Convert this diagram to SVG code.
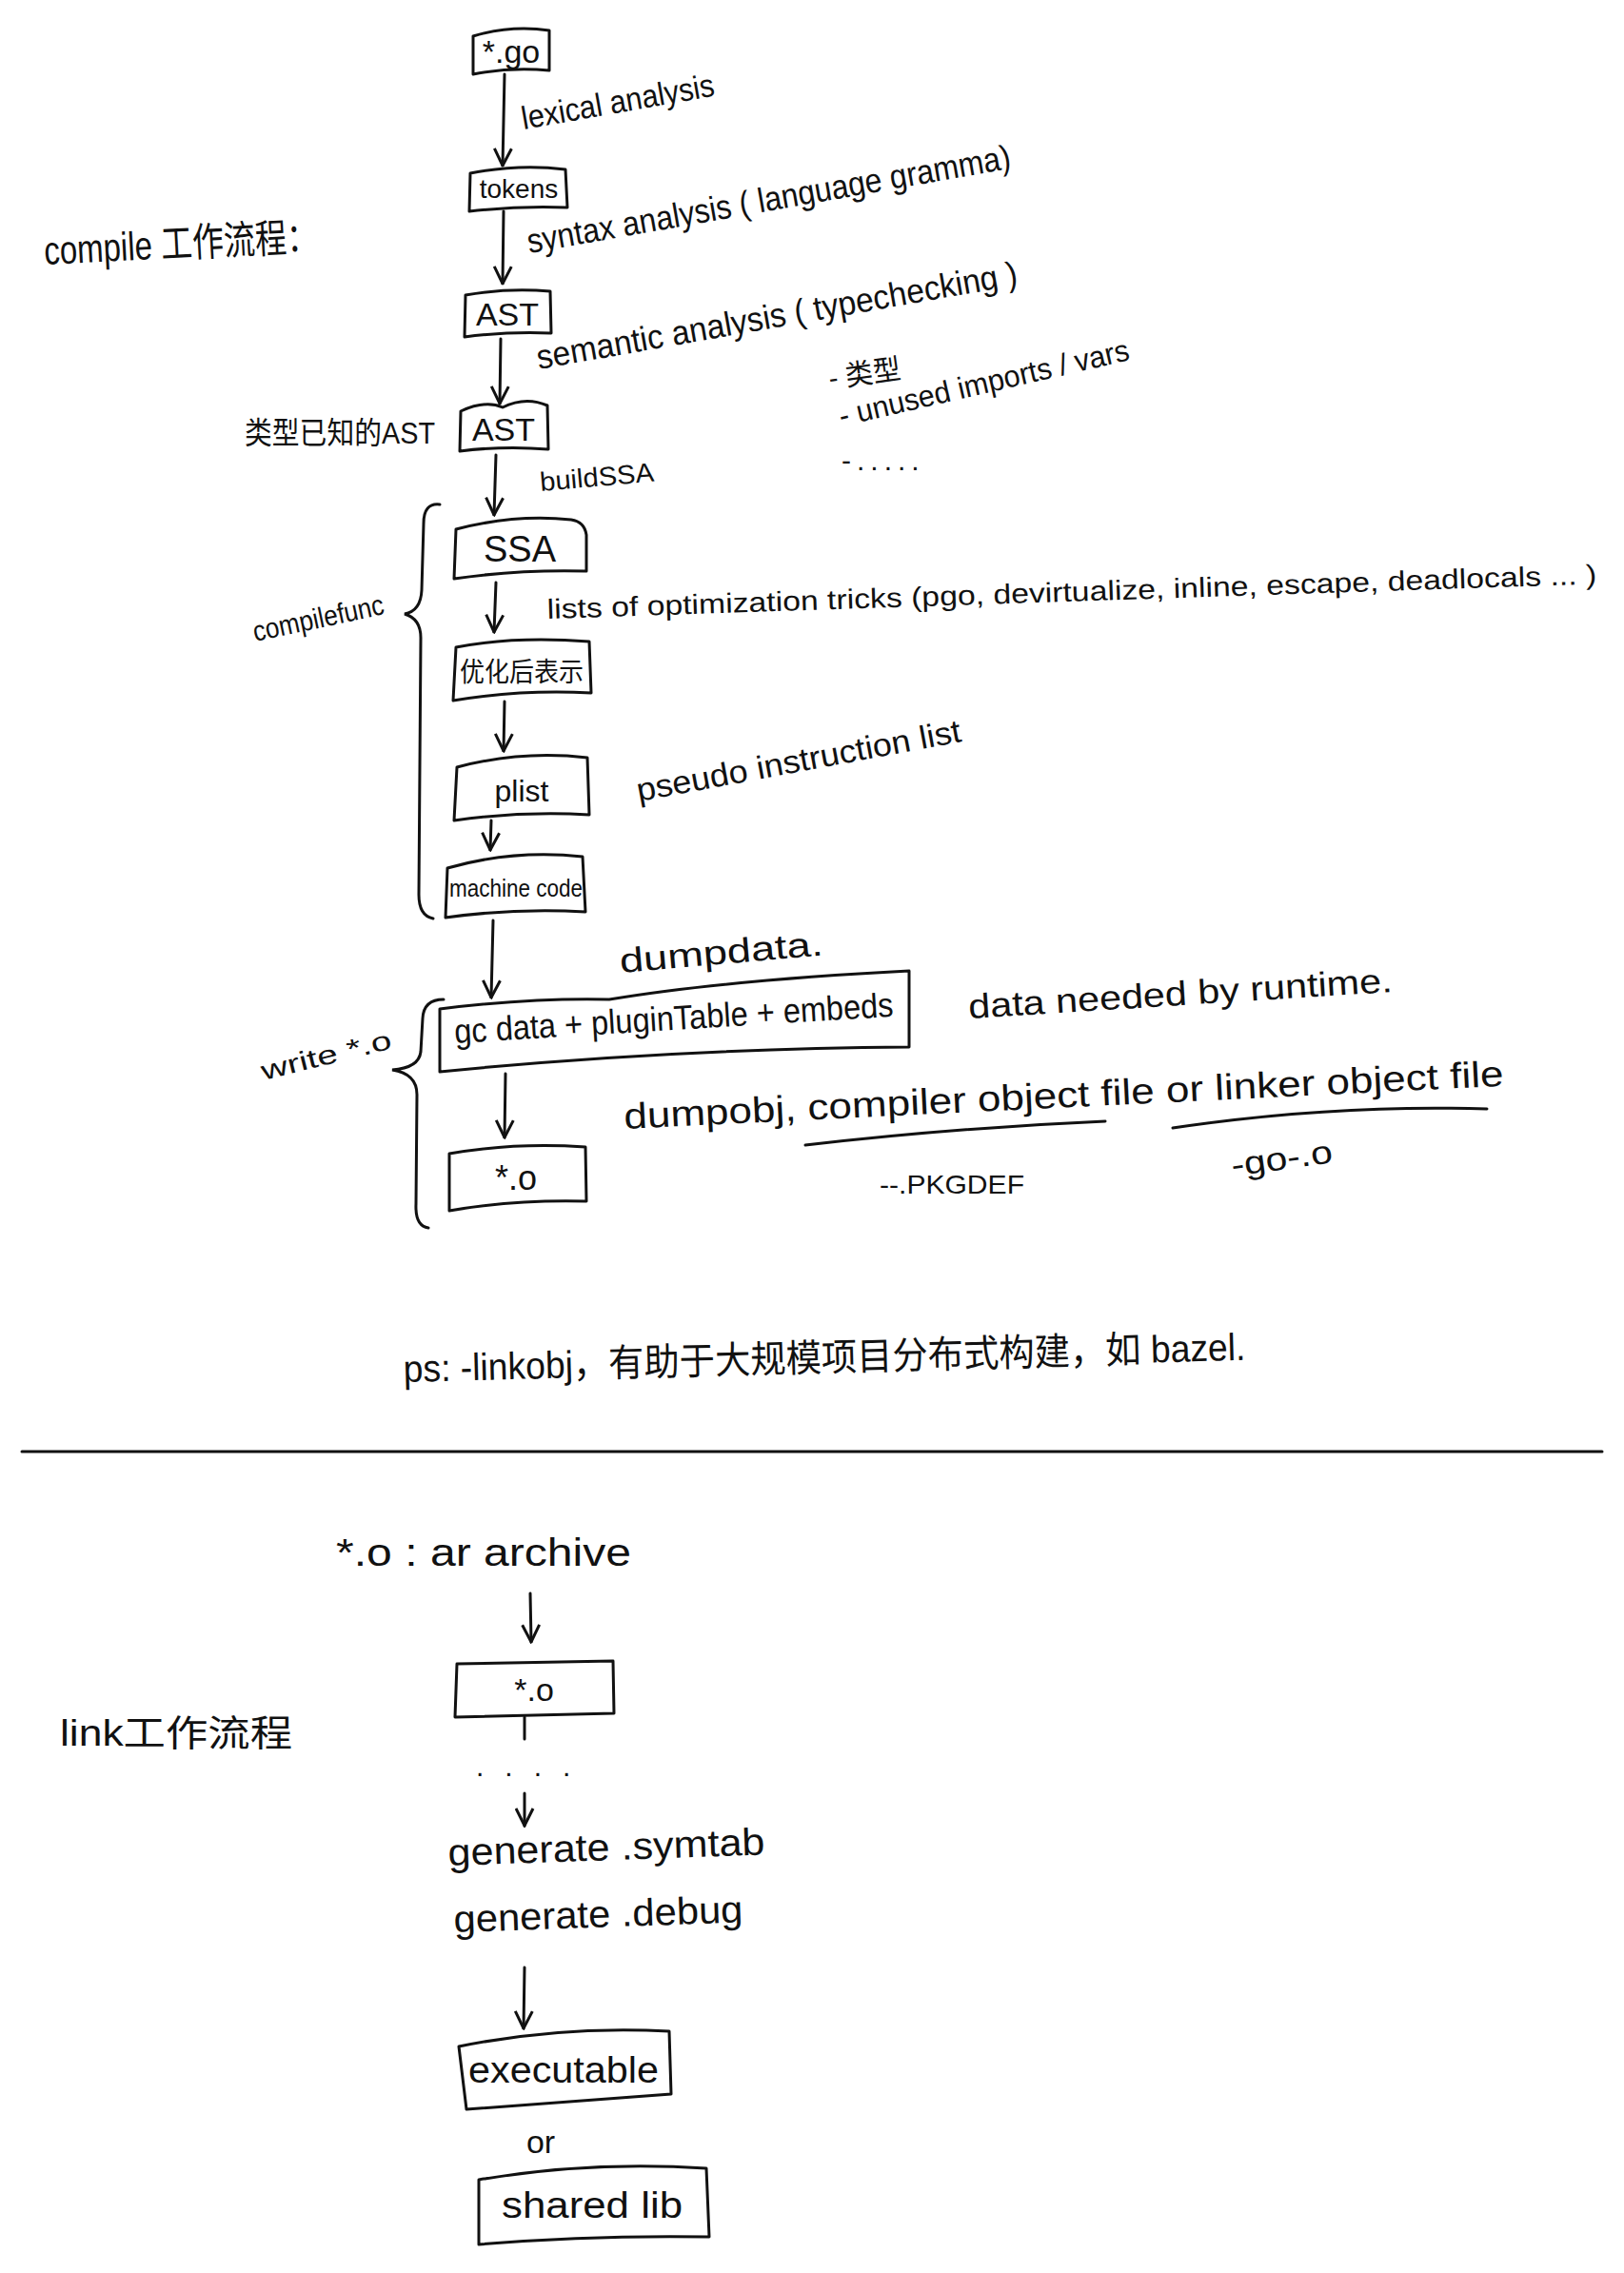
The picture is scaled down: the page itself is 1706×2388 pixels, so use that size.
<svg xmlns="http://www.w3.org/2000/svg" width="1706" height="2388" viewBox="0 0 1706 2388">
<style>
.bx{fill:none;stroke:#111;stroke-width:3;stroke-linejoin:round;stroke-linecap:round}
.ln{fill:none;stroke:#111;stroke-width:3;stroke-linecap:round}
.t{font-family:"Liberation Sans","Noto Sans CJK SC",sans-serif;fill:#111}
.c{text-anchor:middle}
</style>
<defs>
<marker id="ah" viewBox="0 0 14 14" refX="13" refY="7" markerWidth="7" markerHeight="7" markerUnits="strokeWidth" orient="auto">
<path d="M1,1 L13,7 L1,13" fill="none" stroke="#111" stroke-width="2"/>
</marker>
</defs>
<rect width="1706" height="2388" fill="#fff"/>

<g id="labels">
<text class="t" x="47" y="278" font-size="42" textLength="288" lengthAdjust="spacingAndGlyphs" transform="rotate(-3 47 278)">compile 工作流程：</text>
<text class="t" x="550" y="136" font-size="34" textLength="205" lengthAdjust="spacingAndGlyphs" transform="rotate(-10 550 136)">lexical analysis</text>
<text class="t" x="556" y="266" font-size="36" textLength="515" lengthAdjust="spacingAndGlyphs" transform="rotate(-10 556 266)">syntax analysis ( language gramma)</text>
<text class="t" x="566" y="388" font-size="36" textLength="512" lengthAdjust="spacingAndGlyphs" transform="rotate(-10 566 388)">semantic analysis ( typechecking )</text>
<text class="t" x="872" y="408" font-size="30" textLength="76" lengthAdjust="spacingAndGlyphs" transform="rotate(-8 872 408)">- 类型</text>
<text class="t" x="884" y="448" font-size="32" textLength="312" lengthAdjust="spacingAndGlyphs" transform="rotate(-13 884 448)">- unused imports / vars</text>
<text class="t" x="884" y="494" font-size="30" letter-spacing="6">-.....</text>
<text class="t" x="257" y="466" font-size="32" textLength="200" lengthAdjust="spacingAndGlyphs">类型已知的AST</text>
<text class="t" x="568" y="516" font-size="28" textLength="120" lengthAdjust="spacingAndGlyphs" transform="rotate(-5 568 516)">buildSSA</text>
<text class="t" x="268" y="674" font-size="30" textLength="140" lengthAdjust="spacingAndGlyphs" transform="rotate(-12 268 674)">compilefunc</text>
<text class="t" x="575" y="650" font-size="29" textLength="1103" lengthAdjust="spacingAndGlyphs" transform="rotate(-1.9 575 650)">lists of optimization tricks  (pgo, devirtualize, inline, escape, deadlocals ... )</text>
<text class="t" x="671" y="842" font-size="34" textLength="346" lengthAdjust="spacingAndGlyphs" transform="rotate(-10.5 671 842)">pseudo instruction list</text>
<text class="t" x="652" y="1022" font-size="36" textLength="214" lengthAdjust="spacingAndGlyphs" transform="rotate(-5 652 1022)">dumpdata.</text>
<text class="t" x="277" y="1135" font-size="28" textLength="140" lengthAdjust="spacingAndGlyphs" transform="rotate(-14 277 1135)">write *.o</text>
<text class="t" x="1018" y="1070" font-size="36" textLength="446" lengthAdjust="spacingAndGlyphs" transform="rotate(-3.6 1018 1070)">data needed by runtime.</text>
<text class="t" x="656" y="1186" font-size="38" textLength="925" lengthAdjust="spacingAndGlyphs" transform="rotate(-2.8 656 1186)">dumpobj, compiler object file or linker object file</text>
<text class="t" x="924" y="1254" font-size="28" textLength="152" lengthAdjust="spacingAndGlyphs">--.PKGDEF</text>
<text class="t" x="1295" y="1236" font-size="34" textLength="107" lengthAdjust="spacingAndGlyphs" transform="rotate(-8 1295 1236)">-go-.o</text>
<text class="t" x="424" y="1452" font-size="40" textLength="885" lengthAdjust="spacingAndGlyphs" transform="rotate(-1.5 424 1452)">ps: -linkobj，有助于大规模项目分布式构建，如 bazel.</text>
<text class="t" x="353" y="1645" font-size="40" textLength="310" lengthAdjust="spacingAndGlyphs">*.o : ar archive</text>
<text class="t" x="63" y="1834" font-size="38" textLength="244" lengthAdjust="spacingAndGlyphs">link工作流程</text>
<text class="t" x="500" y="1866" font-size="30" letter-spacing="22">....</text>
<text class="t" x="471" y="1960" font-size="40" textLength="333" lengthAdjust="spacingAndGlyphs" transform="rotate(-2 471 1960)">generate .symtab</text>
<text class="t" x="477" y="2030" font-size="40" textLength="304" lengthAdjust="spacingAndGlyphs" transform="rotate(-2 477 2030)">generate .debug</text>
<text class="t c" x="568" y="2262" font-size="34">or</text>
</g>

<g id="n-go"><path class="bx" d="M497,38 Q537,26 577,32 L577,74 Q537,70 497,78 Z"/><text class="t c" x="537" y="66" font-size="34">*.go</text></g>
<g id="n-tokens"><path class="bx" d="M494,182 Q545,172 594,178 L596,218 Q545,216 493,222 Z"/><text class="t c" x="545" y="208" font-size="28">tokens</text></g>
<g id="n-ast"><path class="bx" d="M489,310 Q534,302 578,306 L579,350 Q534,348 488,354 Z"/><text class="t c" x="533" y="342" font-size="34">AST</text></g>
<g id="n-ast2"><path class="bx" d="M484,432 Q510,420 528,428 Q552,416 575,426 L576,472 Q530,468 483,474 Z"/><text class="t c" x="529" y="463" font-size="34">AST</text></g>
<g id="n-ssa"><path class="bx" d="M479,556 Q540,540 600,546 Q614,548 616,562 L616,600 Q546,598 477,608 Z"/><text class="t c" x="546" y="590" font-size="38">SSA</text></g>
<g id="n-opt"><path class="bx" d="M479,680 Q540,668 619,674 L621,728 Q548,724 476,736 Z"/><text class="t c" x="548" y="716" font-size="28" textLength="130" lengthAdjust="spacingAndGlyphs">优化后表示</text></g>
<g id="n-plist"><path class="bx" d="M480,806 Q548,788 617,796 L619,856 Q548,852 477,862 Z"/><text class="t c" x="548" y="842" font-size="32">plist</text></g>
<g id="n-mc"><path class="bx" d="M470,912 Q540,892 612,900 L615,958 Q540,954 468,964 Z"/><text class="t c" x="542" y="942" font-size="26" textLength="140" lengthAdjust="spacingAndGlyphs">machine code</text></g>
<g id="n-gc"><path class="bx" d="M462,1060 Q560,1048 640,1050 Q760,1030 955,1020 L955,1100 Q700,1102 462,1126 Z"/><text class="t" x="478" y="1096" font-size="36" textLength="462" lengthAdjust="spacingAndGlyphs" transform="rotate(-3.5 478 1096)">gc data + pluginTable + embeds</text></g>
<g id="n-o1"><path class="bx" d="M472,1212 Q540,1200 615,1205 L616,1262 Q540,1260 472,1272 Z"/><text class="t c" x="542" y="1250" font-size="36">*.o</text></g>
<g id="n-o2"><path class="bx" d="M480,1748 L644,1745 L645,1800 L478,1804 Z"/><text class="t c" x="561" y="1787" font-size="34">*.o</text></g>
<g id="n-exec"><path class="bx" d="M482,2150 Q590,2128 703,2134 L705,2200 Q600,2208 490,2216 Z"/><text class="t c" x="592" y="2188" font-size="38" textLength="200" lengthAdjust="spacingAndGlyphs">executable</text></g>
<g id="n-shared"><path class="bx" d="M503,2290 Q620,2270 742,2278 L745,2350 Q620,2348 503,2358 Z"/><text class="t c" x="622" y="2330" font-size="38" textLength="190" lengthAdjust="spacingAndGlyphs">shared lib</text></g>

<g id="connectors">
<path class="ln" d="M530,78 L528,174" marker-end="url(#ah)"/>
<path class="ln" d="M529,222 L528,298" marker-end="url(#ah)"/>
<path class="ln" d="M526,356 L525,424" marker-end="url(#ah)"/>
<path class="ln" d="M521,478 L519,541" marker-end="url(#ah)"/>
<path class="ln" d="M521,612 L519,664" marker-end="url(#ah)"/>
<path class="ln" d="M530,737 L529,789" marker-end="url(#ah)"/>
<path class="ln" d="M516,862 L515,893" marker-end="url(#ah)"/>
<path class="ln" d="M518,967 L516,1048" marker-end="url(#ah)"/>
<path class="ln" d="M531,1128 L530,1195" marker-end="url(#ah)"/>
<path class="ln" d="M557,1674 L558,1725" marker-end="url(#ah)"/>
<path class="ln" d="M551,1804 L551,1827"/>
<path class="ln" d="M551,1884 L551,1918" marker-end="url(#ah)"/>
<path class="ln" d="M551,2067 L550,2131" marker-end="url(#ah)"/>
<path class="ln" d="M462,530 Q445,528 445,550 L443,620 Q442,642 425,645 Q442,650 442,670 L440,940 Q440,962 455,965"/>
<path class="ln" d="M466,1050 Q445,1050 444,1070 L442,1105 Q440,1122 412,1124 Q438,1128 438,1150 L437,1265 Q436,1288 450,1290"/>
<path class="ln" d="M846,1203 Q1000,1185 1161,1178"/>
<path class="ln" d="M1232,1185 Q1400,1160 1562,1165"/>
<path class="ln" d="M23,1525 L1683,1525" stroke-width="2"/>
</g>
</svg>
